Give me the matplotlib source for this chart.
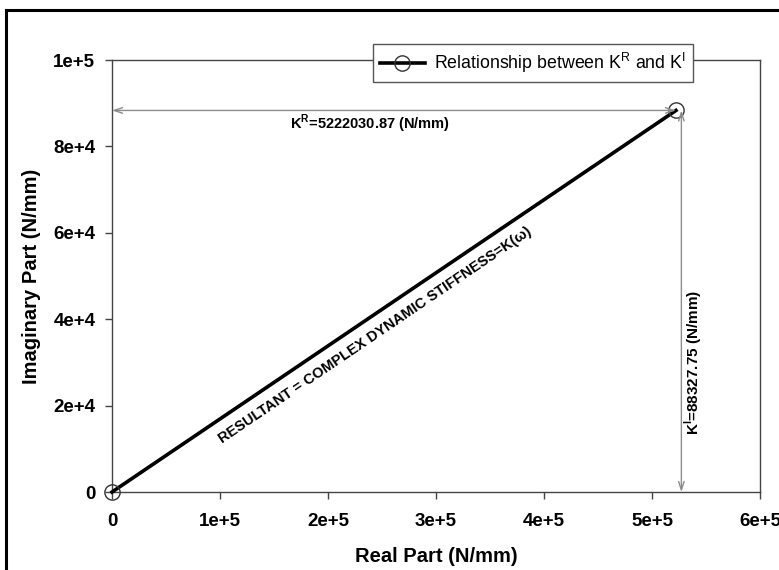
import matplotlib
matplotlib.use("Agg")
import matplotlib.pyplot as plt
from matplotlib.lines import Line2D

plt.rcParams['font.family'] = ['Liberation Sans', 'DejaVu Sans']

# Complex dynamic stiffness components (N/mm)
real_part = [0.0, 522203.087]
imag_part = [0.0, 88327.75]
kr_text = "5222030.87"
ki_text = "88327.75"

x_ticks = [0, 1e5, 2e5, 3e5, 4e5, 5e5, 6e5]
x_tick_labels = ["0", "1e+5", "2e+5", "3e+5", "4e+5", "5e+5", "6e+5"]
y_ticks = [0, 2e4, 4e4, 6e4, 8e4, 1e5]
y_tick_labels = ["0", "2e+4", "4e+4", "6e+4", "8e+4", "1e+5"]

fig = plt.figure(figsize=(7.79, 5.70), dpi=100)
ax = fig.add_axes([0.1438, 0.1368, 0.8318, 0.7579])

ax.plot(real_part, imag_part, color="black", lw=2.6, zorder=3,
        marker="o", markersize=11, markerfacecolor="none",
        markeredgecolor="#333333", markeredgewidth=1.0, clip_on=False,
        label="Relationship between K$^{\\mathregular{R}}$ and K$^{\\mathregular{I}}$")

ax.set_xlim(0, 6e5)
ax.set_ylim(0, 1e5)
ax.set_xticks(x_ticks)
ax.set_xticklabels(x_tick_labels)
ax.set_yticks(y_ticks)
ax.set_yticklabels(y_tick_labels)
for lab in ax.get_xticklabels() + ax.get_yticklabels():
    lab.set_fontweight("bold")
    lab.set_fontsize(13.5)
ax.tick_params(direction="out", length=5, width=1, color="#444444")
ax.tick_params(axis="x", pad=10)
ax.tick_params(axis="y", pad=7)
for s in ax.spines.values():
    s.set_color("#444444")
    s.set_linewidth(1.0)

ax.set_xlabel("Real Part (N/mm)", fontsize=14.5, fontweight="bold", labelpad=12)
ax.set_ylabel("Imaginary Part (N/mm)", fontsize=14.5, fontweight="bold", labelpad=9)

arrow_kw = dict(arrowstyle="<->,head_length=0.6,head_width=0.2",
                color="#8c8c8c", lw=1.0, shrinkA=0, shrinkB=0)

# Horizontal dimension: real part
ax.annotate("", xy=(0, imag_part[1]), xytext=(real_part[1], imag_part[1]),
            arrowprops=arrow_kw, annotation_clip=False)
ax.text(2.39e5, 85300, "K$^{\\mathregular{R}}$=" + kr_text + " (N/mm)",
        ha="center", va="center", fontsize=10.5, fontweight="bold")

# Vertical dimension: imaginary part
x_dim = real_part[1] + 5000
ax.annotate("", xy=(x_dim, imag_part[1]), xytext=(x_dim, 0),
            arrowprops=arrow_kw, annotation_clip=False)
ax.text(5.39e5, 30100, "K$^{\\mathregular{I}}$=" + ki_text + " (N/mm)",
        ha="center", va="center", rotation=90, fontsize=11, fontweight="bold")

# Label along the resultant
ax.text(2.44e5, 36300, "RESULTANT = COMPLEX DYNAMIC STIFFNESS=K(\u03c9)",
        ha="center", va="center", rotation=34.1, rotation_mode="anchor",
        fontsize=10.5, fontweight="bold")

leg = ax.legend(loc="upper left", bbox_to_anchor=(0.403, 1.037),
                fontsize=12.8, frameon=True, fancybox=False, framealpha=1,
                edgecolor="#555555", handlelength=2.5, borderpad=0.4,
                handletextpad=0.5, borderaxespad=0)
leg.get_frame().set_linewidth(1.0)
leg.set_zorder(5)

# Outer frame
fig.add_artist(Line2D([0.008, 0.008], [0.0, 0.982], transform=fig.transFigure,
                      color="black", lw=2.2))
fig.add_artist(Line2D([0.008, 1.0], [0.982, 0.982], transform=fig.transFigure,
                      color="black", lw=2.2))

fig.savefig("out.png", dpi=100)
